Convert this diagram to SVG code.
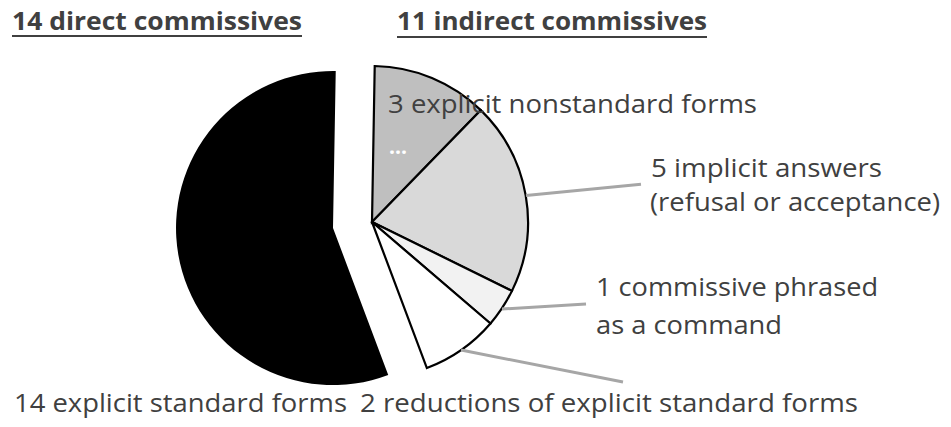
<svg xmlns="http://www.w3.org/2000/svg" width="951" height="427" viewBox="0 0 951 427">
<style>
.lbl{font-family:"Open Sans","DejaVu Sans",sans-serif;font-size:25px;fill:#404040}
.hd{font-family:"Open Sans","DejaVu Sans",sans-serif;font-size:25px;font-weight:bold;fill:#404040}
.sl{stroke:#000;stroke-width:2.2;stroke-linejoin:miter}
.lead{stroke:#a6a6a6;stroke-width:3;fill:none}
</style>
<rect width="951" height="427" fill="#fff"/>
<g id="heading-direct">
<text class="hd" x="12" y="30" textLength="290" lengthAdjust="spacingAndGlyphs">14 direct commissives</text>
<line x1="12" y1="36" x2="302" y2="36" stroke="#404040" stroke-width="2"/>
</g>
<g id="heading-indirect">
<text class="hd" x="397" y="30" textLength="310" lengthAdjust="spacingAndGlyphs">11 indirect commissives</text>
<line x1="397" y1="37" x2="707" y2="37" stroke="#404040" stroke-width="2"/>
</g>
<g id="slice-explicit-standard">
<path d="M333,228 L335.74,71.02 A157,157 0 1 0 388.23,374.97 Z" fill="#000"/>
</g>
<g id="slice-explicit-nonstandard">
<path class="sl" d="M372,222 L374.72,66.02 A156,156 0 0 1 480.76,110.16 Z" fill="#bfbfbf"/>
</g>
<g id="slice-implicit-answers">
<path class="sl" d="M372,222 L480.76,110.16 A156,156 0 0 1 511.97,290.88 Z" fill="#d9d9d9"/>
</g>
<g id="slice-command">
<path class="sl" d="M372,222 L511.97,290.88 A156,156 0 0 1 490.45,323.52 Z" fill="#f2f2f2"/>
</g>
<g id="slice-reductions">
<path class="sl" d="M372,222 L490.45,323.52 A156,156 0 0 1 426.89,368.03 Z" fill="#ffffff"/>
</g>
<g id="connectors">
<polyline class="lead" points="526,195.5 641,184.3"/>
<polyline class="lead" points="502,309 586,304"/>
<polyline class="lead" points="461,350 623,382"/>
</g>
<g id="label-nonstandard">
<text class="lbl" x="388" y="113" textLength="369" lengthAdjust="spacingAndGlyphs">3 explicit nonstandard forms</text>
<text x="389" y="154" font-family="Open Sans, DejaVu Sans, sans-serif" font-size="22" font-weight="bold" fill="#ffffff" textLength="18" lengthAdjust="spacingAndGlyphs">...</text>
</g>
<g id="label-implicit">
<text class="lbl" x="651" y="177" textLength="231" lengthAdjust="spacingAndGlyphs">5 implicit answers</text>
<text class="lbl" x="650" y="211" textLength="290" lengthAdjust="spacingAndGlyphs">(refusal or acceptance)</text>
</g>
<g id="label-command">
<text class="lbl" x="596" y="296" textLength="282" lengthAdjust="spacingAndGlyphs">1 commissive phrased</text>
<text class="lbl" x="596" y="334" textLength="186" lengthAdjust="spacingAndGlyphs">as a command</text>
</g>
<g id="label-standard">
<text class="lbl" x="14" y="412" textLength="333" lengthAdjust="spacingAndGlyphs">14 explicit standard forms</text>
</g>
<g id="label-reductions">
<text class="lbl" x="360" y="412" textLength="498" lengthAdjust="spacingAndGlyphs">2 reductions of explicit standard forms</text>
</g>
</svg>
